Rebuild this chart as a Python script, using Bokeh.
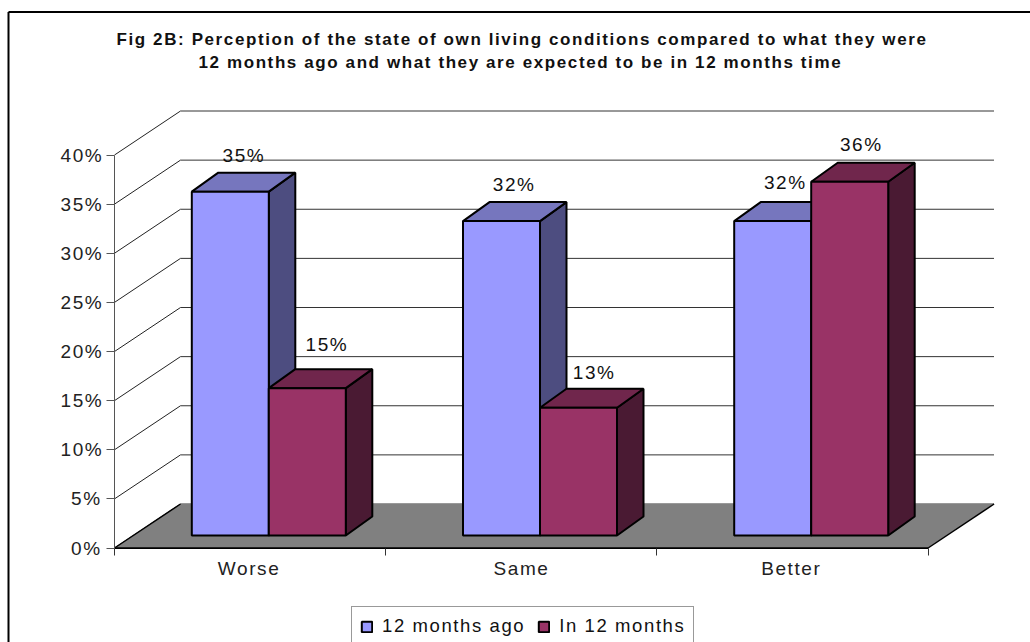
from bokeh.plotting import figure
from bokeh.embed import file_html
from bokeh.resources import INLINE
from bokeh.models import FixedTicker, Legend, LegendItem, Range1d
from bokeh.core.properties import value

title_lines = ["Fig 2B: Perception of the state of own living conditions compared to what they were",
               "12 months ago and what they are expected to be in 12 months time"]
categories = ["Worse", "Same", "Better"]
series_names = ["12 months ago", "In 12 months"]
ago_12 = [35, 32, 32]
in_12 = [15, 13, 36]
y_ticks = [0, 5, 10, 15, 20, 25, 30, 35, 40]

FONT = "Liberation Sans"
FS = "19px"
LEG_FS = "18.5px"
PX_X = 271.2      # pixels per category
PX_Y = 9.825      # pixels per percent
W, H = 1030, 642
X0, Y0 = 114, 547.5   # pixel position of the data origin

p = figure(width=W, height=H, output_backend="svg", toolbar_location=None,
           x_range=Range1d(-X0 / PX_X, (W - X0) / PX_X),
           y_range=Range1d(-(H - Y0) / PX_Y, Y0 / PX_Y),
           min_border_left=0, min_border_right=0, min_border_top=0, min_border_bottom=0,
           background_fill_color="white", border_fill_color="white", outline_line_color=None,
           styles={"letter-spacing": "1.6px"})
p.grid.visible = False

def dx(px): return px / PX_X
def dy(px): return px / PX_Y
def px_x(px): return (px - X0) / PX_X
def px_y(py): return (Y0 - py) / PX_Y

DEPTH_X, DEPTH_Y = dx(66), dy(44)
BAR_W = dx(77)
BAR_DX, BAR_DY = dx(26.5), dy(19)
BASE_X, BASE_Y = dx(18.7), dy(12.5)
RIGHT = px_x(993.5)

# chart border (open at the right and bottom, like the reference's crop)
p.segment([px_x(8), px_x(8)], [px_y(11.5), px_y(11.5)], [px_x(8), px_x(1030)], [px_y(642), px_y(11.5)],
          line_color="black", line_width=2)

# walls
p.segment(x0=[0] * len(y_ticks), y0=y_ticks, x1=[DEPTH_X] * len(y_ticks),
          y1=[t + DEPTH_Y for t in y_ticks], line_color="#222222", line_width=1)
p.segment(x0=[DEPTH_X] * len(y_ticks), y0=[t + DEPTH_Y for t in y_ticks],
          x1=[RIGHT] * len(y_ticks), y1=[t + DEPTH_Y for t in y_ticks],
          line_color="#333333", line_width=1)

# floor
n = len(categories)
p.patch([0, n, n + DEPTH_X, DEPTH_X], [0, 0, DEPTH_Y, DEPTH_Y], fill_color="#808080", line_color=None)
p.segment([0, 0, n], [0, 0, 0], [n, DEPTH_X, n + DEPTH_X], [0, DEPTH_Y, DEPTH_Y],
          line_color="black", line_width=1.5)

FRONTS = ["#9999FF", "#993366"]
TOPS = ["#7676BE", "#70264C"]
SIDES = ["#4D4D80", "#4A1A33"]

legend_rs = [None, None]
for c in range(n):
    mid = c + 0.5 + BASE_X
    for s, vals in enumerate([ago_12, in_12]):
        v = vals[c]
        x0 = mid - BAR_W if s == 0 else mid
        x1 = x0 + BAR_W
        y0, y1 = BASE_Y, v + BASE_Y
        p.patch([x1, x1 + BAR_DX, x1 + BAR_DX, x1], [y0, y0 + BAR_DY, y1 + BAR_DY, y1],
                fill_color=SIDES[s], line_color="black", line_width=2)
        p.patch([x0, x1, x1 + BAR_DX, x0 + BAR_DX], [y1, y1, y1 + BAR_DY, y1 + BAR_DY],
                fill_color=TOPS[s], line_color="black", line_width=2)
        legend_rs[s] = p.quad(left=[x0], right=[x1], bottom=[y0], top=[y1],
                              fill_color=FRONTS[s], line_color="black", line_width=2)

# data labels: placement nudges (px) per series and category
LABEL_GAP = [[17.5, 18, 19.5], [25, 16, 18]]
LABEL_SHIFT = [[-2, -3, -3], [4, 0, -4]]
for c in range(n):
    mid = c + 0.5 + BASE_X
    for s, vals in enumerate([ago_12, in_12]):
        v = vals[c]
        xc = (mid - BAR_W / 2 if s == 0 else mid + BAR_W / 2) + BAR_DX / 2 + dx(LABEL_SHIFT[s][c])
        p.text(x=[xc], y=[v + BASE_Y + BAR_DY + dy(LABEL_GAP[s][c])], text=[f"{v}%"], text_align="center",
               text_baseline="alphabetic", text_color="#111111",
               text_font=value(FONT), text_font_size=FS)

# title
for line, left_px, base_py in zip(title_lines, [116, 198], [38.5, 61.5]):
    p.text(x=[px_x(left_px)], y=[px_y(base_py)], text=[line], text_align="left",
           text_baseline="alphabetic", text_font=value(FONT), text_font_style="bold",
           text_font_size="17px", text_color="#111111")

# axes drawn inside the full-canvas frame
ya = p.yaxis[0]
ya.fixed_location = 0
ya.ticker = FixedTicker(ticks=y_ticks)
ya.major_label_overrides = {t: f"{t}%" for t in y_ticks}
ya.bounds = (0, 40)
ya.major_tick_out, ya.major_tick_in = 8, 0
ya.minor_tick_line_color = None
ya.axis_line_color = "#555555"
ya.major_tick_line_color = "#555555"
ya.major_label_text_font = FONT
ya.major_label_text_font_size = FS
ya.major_label_text_color = "#222222"
ya.major_label_standoff = 8

# label anchors sit slightly left of the category centres to offset the letter spacing
CAT_SHIFT = [-5, -3, -6]
cat_ticks = [c + 0.5 + dx(CAT_SHIFT[c]) for c in range(n)]
xa = p.xaxis[0]
xa.fixed_location = 0
xa.ticker = FixedTicker(ticks=cat_ticks, minor_ticks=list(range(n + 1)))
xa.major_label_overrides = {cat_ticks[c]: categories[c] for c in range(n)}
xa.bounds = (0, n)
xa.major_tick_out, xa.major_tick_in = 0, 0
xa.minor_tick_out, xa.minor_tick_in = 7, 0
xa.minor_tick_line_color = "#333333"
xa.axis_line_color = "black"
xa.major_label_text_font = FONT
xa.major_label_text_font_size = FS
xa.major_label_text_color = "#222222"
xa.major_label_standoff = 3

# legend
lg = Legend(items=[LegendItem(label=series_names[i], renderers=[legend_rs[i]]) for i in range(2)],
            orientation="horizontal", location=(351, -4), glyph_width=13, glyph_height=13,
            label_standoff=9, label_width=125, spacing=12, padding=8, margin=0,
            label_text_font=FONT, label_text_font_size=LEG_FS, label_text_color="#111111",
            border_line_color="#333333", border_line_width=1, background_fill_color="white",
            background_fill_alpha=1)
p.add_layout(lg, "center")

open("out.html", "w").write(file_html(p, INLINE))
